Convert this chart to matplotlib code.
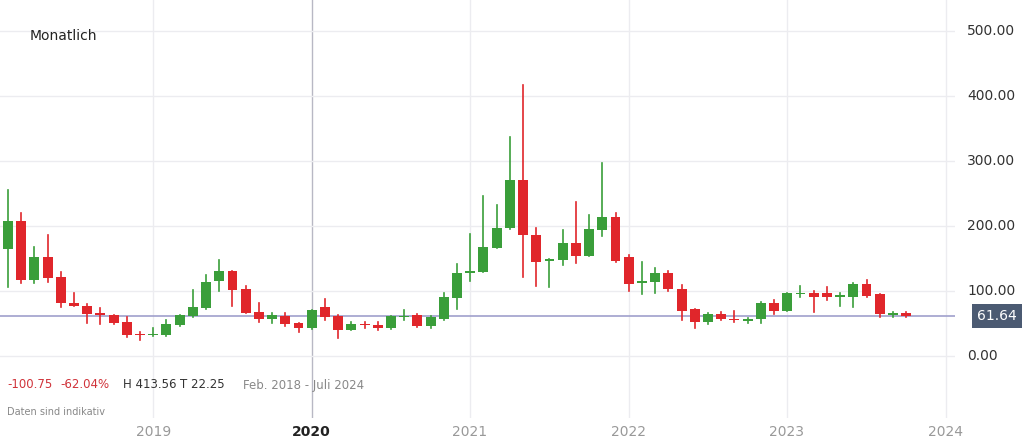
import numpy as np
import matplotlib.pyplot as plt
from matplotlib.patches import Rectangle

# monthly OHLC, Feb 2018 onwards
opens  = [165,208,118,152,122,82,78,66,63,52,34,33,32,48,62,74,115,131,103,68,58,62,51,43,
          75,62,41,50,48,43,61,63,46,57,89,128,129,166,197,271,186,146,148,174,154,194,214,
          152,112,114,128,103,72,52,65,58,54,57,82,69,95,97,97,91,91,111,95,63,66]
closes = [208,118,152,121,82,78,65,63,51,32,32,33,49,63,75,114,131,102,66,57,63,49,43,71,
          60,41,49,48,43,62,62,46,60,91,128,131,168,198,271,186,145,149,174,154,195,214,146,
          111,115,128,103,69,52,65,57,55,58,82,69,97,97,91,91,94,111,92,65,66,62]
highs  = [255,220,168,186,129,97,81,74,63,60,37,43,55,63,102,125,148,131,108,82,66,66,51,71,
          88,63,52,52,52,62,71,65,62,97,142,188,246,232,337,417,198,149,194,238,217,297,220,
          155,145,135,131,109,72,67,68,69,59,84,86,98,108,100,106,97,112,117,95,68,68]
lows   = [106,112,112,114,75,77,51,49,50,29,25,31,31,46,61,73,100,78,66,52,51,46,38,42,
          55,28,40,43,41,42,55,45,44,55,72,115,129,166,195,122,108,106,140,143,154,185,145,
          100,95,98,100,55,43,49,55,52,51,51,65,69,91,68,86,78,75,91,60,60,61]
last_price = 61.64
year_labels = ['2019', '2020', '2021', '2022', '2023', '2024']
year_idx = [11, 23, 35, 47, 59, 71]

green = '#3a9e3a'
red = '#e0262b'

fig = plt.figure(figsize=(10.24, 4.43), dpi=100)
ax = fig.add_axes([0, 25/443, 955/1024, 418/443])
for s in ax.spines.values():
    s.set_visible(False)

w = 0.75
for i, (o, c, h, l) in enumerate(zip(opens, closes, highs, lows)):
    col = green if c >= o else red
    ax.plot([i, i], [l, h], color=col, lw=1.2, zorder=3)
    b = max(abs(c - o), 1.2)
    ax.add_patch(Rectangle((i - w/2, min(o, c)), w, b, color=col, lw=0, zorder=4))

ax.set_xlim(-0.6, 71.7)
ax.set_ylim(-95, 548)
ax.set_yticks([0, 100, 200, 300, 400, 500])
ax.grid(axis='y', color='#ececf0', lw=1)
for k, xi in enumerate(year_idx):
    ax.axvline(xi, color='#b8b8c4' if year_labels[k] == '2020' else '#ececf0', lw=1, zorder=0)
ax.tick_params(left=False, bottom=False, labelleft=False, labelbottom=False)

for v in [0, 100, 200, 300, 400, 500]:
    fig.text(967/1024, 1 - (356 - v*0.65)/443, '%.2f' % v, ha='left', va='center',
             fontsize=10, color='#333333')
for k, xi in enumerate(year_idx):
    x = (8 + 13.2*xi)/1024
    bold = year_labels[k] == '2020'
    fig.text(x, 1 - 432/443, year_labels[k], ha='center', va='center', fontsize=10,
             color='#222222' if bold else '#999999', fontweight='bold' if bold else 'normal')

ax.axhline(last_price, color='#a0a0cc', lw=1.2, zorder=2)
fig.patches.append(Rectangle((972/1024, 1 - 328/443), 50/1024, 24/443, transform=fig.transFigure,
                             facecolor='#4b5a72', edgecolor='none'))
fig.text(997/1024, 1 - 316/443, '%.2f' % last_price, ha='center', va='center', fontsize=10, color='white')

fig.text(30/1024, 1 - 36/443, 'Monatlich', fontsize=10, color='#222222', va='center')
yy = 1 - 385/443
fig.text(7/1024, yy, '-100.75', fontsize=8.5, color='#d0333a', va='center')
fig.text(60/1024, yy, '-62.04%', fontsize=8.5, color='#d0333a', va='center')
fig.text(123/1024, yy, 'H 413.56', fontsize=8.5, color='#333333', va='center')
fig.text(180/1024, yy, 'T 22.25', fontsize=8.5, color='#333333', va='center')
fig.text(243/1024, yy, 'Feb. 2018 - Juli 2024', fontsize=8.5, color='#888888', va='center')
fig.text(7/1024, 1 - 412/443, 'Daten sind indikativ', fontsize=7, color='#888888', va='center')

fig.savefig('out.png', dpi=100)
